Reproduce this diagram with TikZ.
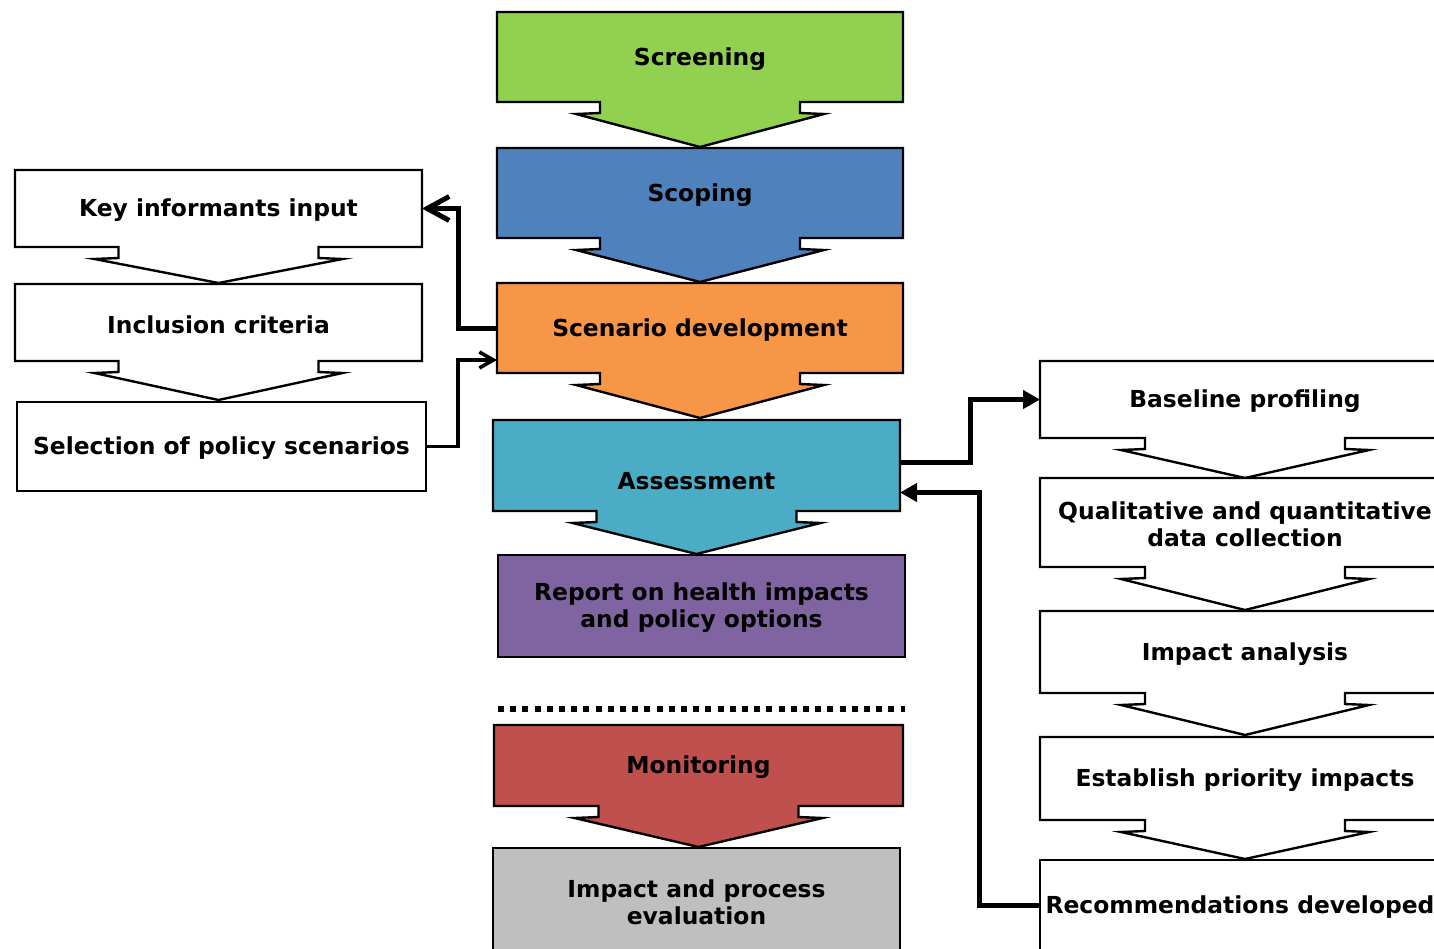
\documentclass[tikz,border=0pt]{standalone}
\usepackage{fontspec}
\setmainfont{DejaVu Sans}
\usetikzlibrary{arrows.meta,calc}
\definecolor{cGreen}{HTML}{92D050}
\definecolor{cBlue}{HTML}{4F81BD}
\definecolor{cOrange}{HTML}{F79646}
\definecolor{cTeal}{HTML}{4BACC6}
\definecolor{cPurple}{HTML}{8064A2}
\definecolor{cRed}{HTML}{C0504D}
\definecolor{cGray}{HTML}{BFBFBF}
\tikzset{
  boxline/.style={draw=black, line width=1.2pt, line join=miter},
  txt/.style={inner sep=0pt, outer sep=0pt, align=center,
    font=\fontsize{11.7pt}{13.6pt}\selectfont\bfseries},
  conn/.style={draw=black, line width=2.5pt, line join=miter},
  thinconn/.style={draw=black, line width=1.8pt, line join=miter},
  barb/.style={-{Straight Barb[length=11pt,width=12pt]}},
  smallbarb/.style={-{Straight Barb[length=7pt,width=8pt]}},
  tri/.style={-{Triangle[length=8.5pt,width=9pt]}},
  dotline/.style={draw=black, line width=2.6pt, dash pattern=on 3pt off 3.1pt}
}
% name, cx, cy, half width, half height, fill, head depth, text
\newcommand{\headbox}[8]{%
  \draw[boxline,fill=#6] (#2-#4,#3-#5) -- (#2+#4,#3-#5) -- (#2+#4,#3+#5)
    -- (#2+100,#3+#5) -- (#2+100,#3+#5+11) -- (#2+124,#3+#5+12)
    -- (#2,#3+#5+#7) -- (#2-124,#3+#5+12) -- (#2-100,#3+#5+11)
    -- (#2-100,#3+#5) -- (#2-#4,#3+#5) -- cycle;
  \node[txt, minimum width=#4pt, minimum height=#5pt] (#1) at (#2,#3+2) {#8};
}
% name, cx, cy, half width, half height, fill, text
\newcommand{\plainbox}[7]{%
  \node[boxline, fill=#6, minimum width=#4pt, minimum height=#5pt, inner sep=0pt, outer sep=0pt] (#1) at (#2,#3) {};
  \node[txt] at (#2,#3+2) {#7};
}
\begin{document}
\begin{tikzpicture}[x=0.5pt,y=-0.5pt]
\useasboundingbox (0,0) rectangle (1434,948);
\clip (0,0) rectangle (1434,948);
\fill[white] (0,0) rectangle (1434,948);

% centre column
\headbox{scr}{700}{57}{203}{45}{cGreen}{45}{Screening}
\headbox{scp}{700}{193}{203}{45}{cBlue}{44}{Scoping}
\headbox{scn}{700}{328}{203}{45}{cOrange}{45}{Scenario development}
\headbox{ass}{696.5}{465.5}{203.5}{45.5}{cTeal}{43}{}
\node[txt] (assT) at (696.5,481) {Assessment};
\plainbox{rep}{701.5}{606}{203.5}{51}{cPurple}{Report on health impacts\\and policy options}
\draw[dotline] (498,709) -- (905,709);
\headbox{mon}{698.5}{765.5}{204.5}{40.5}{cRed}{41}{Monitoring}
\plainbox{eva}{696.5}{900}{203.5}{52}{cGray}{Impact and process\\evaluation}

% left column
\headbox{key}{218.5}{208.5}{203.5}{38.5}{white}{36}{Key informants input}
\headbox{inc}{218.5}{322.5}{203.5}{38.5}{white}{39}{Inclusion criteria}
\plainbox{sel}{221.5}{446.5}{204.5}{44.5}{white}{Selection of policy scenarios}

% right column
\headbox{base}{1245}{399.5}{205}{38.5}{white}{40}{Baseline profiling}
\headbox{qual}{1245}{522.5}{205}{44.5}{white}{43}{Qualitative and quantitative\\data collection}
\headbox{imp}{1245}{652}{205}{41}{white}{42}{Impact analysis}
\headbox{est}{1245}{778.5}{205}{41.5}{white}{39}{Establish priority impacts}
\node[boxline, fill=white, minimum width=205pt, minimum height=45pt, inner sep=0pt, outer sep=0pt] (rec) at (1245,905) {};
\node[txt] (recT) at (1240,907) {Recommendations developed};

% connectors
\draw[conn, barb] ([yshift=1pt]scn.west) -- ++(-39,0) |- ([yshift=1pt]key.east);
\draw[thinconn, smallbarb] (sel.east) -- ++(32,0) |- ([yshift=-15pt]scn.west);
\draw[conn, tri] ([yshift=2.5pt]ass.east) -- ++(70,0) |- ([yshift=1pt]base.west);
\draw[conn, tri] (rec.west) -- ++(-61,0) |- ([yshift=-12.5pt]ass.east);
\end{tikzpicture}
\end{document}
